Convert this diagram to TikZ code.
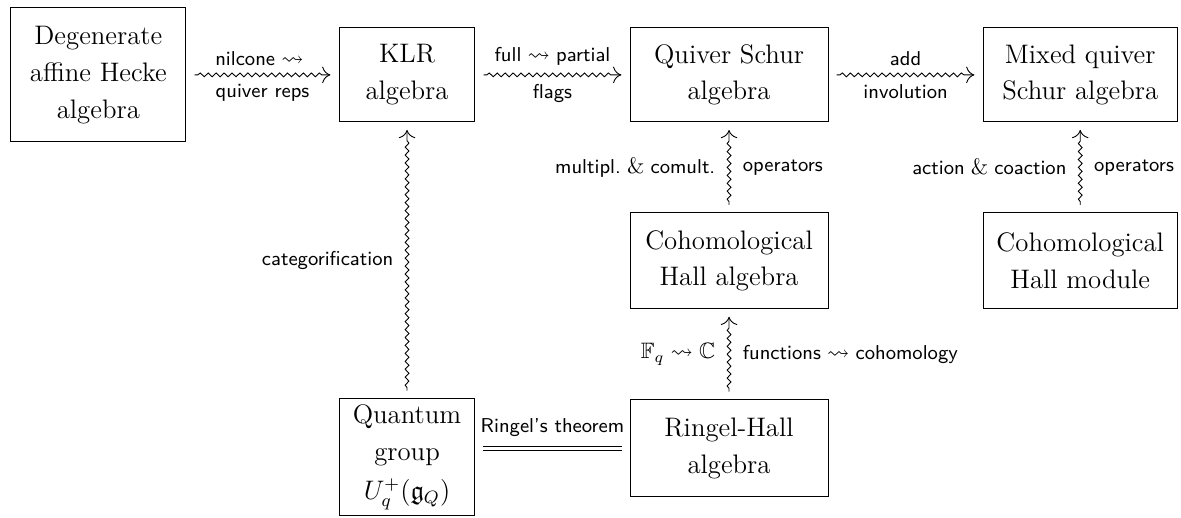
\documentclass[tikz,border=0pt]{standalone}
\usepackage{amsmath,amssymb}
\usetikzlibrary{arrows.meta,positioning,calc,decorations.pathmorphing}

\newcommand{\sqto}{{\normalsize$\;\rightsquigarrow\;$}}
\newcommand{\bigamp}{{\normalsize$\;\&\;$}}

\begin{document}
\begin{tikzpicture}[
    algbox/.style={rectangle, draw, thin, align=center, inner sep=2pt,
        font=\fontsize{12}{16.5}\selectfont},
    wavy/.style={-{To[length=1.3mm, width=2.6mm]}, thin, decorate,
        decoration={snake, amplitude=0.3mm, segment length=1.25mm,
        pre length=0.5mm, post length=1.3mm}},
    lbl/.style={font=\sffamily\small, inner sep=4pt},
    vlbl/.style={font=\sffamily\small, inner sep=6pt}
]
    \useasboundingbox (0,0) rectangle (18.61,-8.148);

    % Top row
    \node[algbox, minimum width=2.76cm, minimum height=2.11cm] (deg) at (1.55,-1.18)
        {Degenerate\\affine Hecke\\algebra};
    \node[algbox, minimum width=2.14cm, minimum height=1.48cm, right=2.40cm of deg] (klr)
        {KLR\\algebra};
    \node[algbox, minimum width=3.12cm, minimum height=1.48cm, right=2.43cm of klr] (qs)
        {Quiver Schur\\algebra};
    \node[algbox, minimum width=3.06cm, minimum height=1.48cm, right=2.43cm of qs] (mqs)
        {Mixed quiver\\Schur algebra};

    % Hall algebras and module
    \node[algbox, minimum width=3.12cm, minimum height=1.51cm, below=1.42cm of qs] (coha)
        {Cohomological\\Hall algebra};
    \node[algbox, minimum width=3.06cm, minimum height=1.51cm, below=1.42cm of mqs] (cohm)
        {Cohomological\\Hall module};
    \node[algbox, minimum width=3.12cm, minimum height=1.53cm, below=1.42cm of coha] (rh)
        {Ringel-Hall\\algebra};
    \node[algbox, minimum width=2.14cm, minimum height=1.84cm, below=4.35cm of klr] (qg)
        {Quantum\\group\\[1pt]$U_q^+(\mathfrak{g}_Q)$};

    % Horizontal connections
    \draw[wavy] ([xshift=1.3mm]deg.east) -- ([xshift=-1.3mm]klr.west)
        node[lbl, midway, above] {nilcone\sqto}
        node[lbl, midway, below] {quiver reps};
    \draw[wavy] ([xshift=1.3mm]klr.east) -- ([xshift=-1.3mm]qs.west)
        node[lbl, midway, above] {full\sqto partial}
        node[lbl, midway, below] {flags};
    \draw[wavy] ([xshift=1.3mm]qs.east) -- ([xshift=-1.3mm]mqs.west)
        node[lbl, midway, above] {add}
        node[lbl, midway, below] {involution};

    % Vertical connections
    \draw[wavy] ([yshift=1.2mm]coha.north) -- ([yshift=-1.2mm]qs.south)
        node[vlbl, midway, left] {multipl.\bigamp comult.}
        node[vlbl, midway, right] {operators};
    \draw[wavy] ([yshift=1.2mm]cohm.north) -- ([yshift=-1.2mm]mqs.south)
        node[vlbl, midway, left] {action\bigamp coaction}
        node[vlbl, midway, right] {operators};
    \draw[wavy] ([yshift=1.2mm]qg.north) -- ([yshift=-1.2mm]klr.south)
        node[vlbl, midway, left] {categorification};
    \draw[wavy] ([yshift=1.2mm]rh.north) -- ([yshift=-1.2mm]coha.south)
        node[vlbl, midway, left] {\normalsize$\mathbb{F}_q \rightsquigarrow \mathbb{C}$}
        node[vlbl, midway, right] {functions\sqto cohomology};

    % Ringel's theorem
    \draw[double, thin, double distance=1.5pt] ($(qg.east |- rh.west)+(0.12,0)$) -- ($(rh.west)+(-0.12,0)$)
        node[lbl, midway, above=1pt] {Ringel's theorem};
\end{tikzpicture}
\end{document}
